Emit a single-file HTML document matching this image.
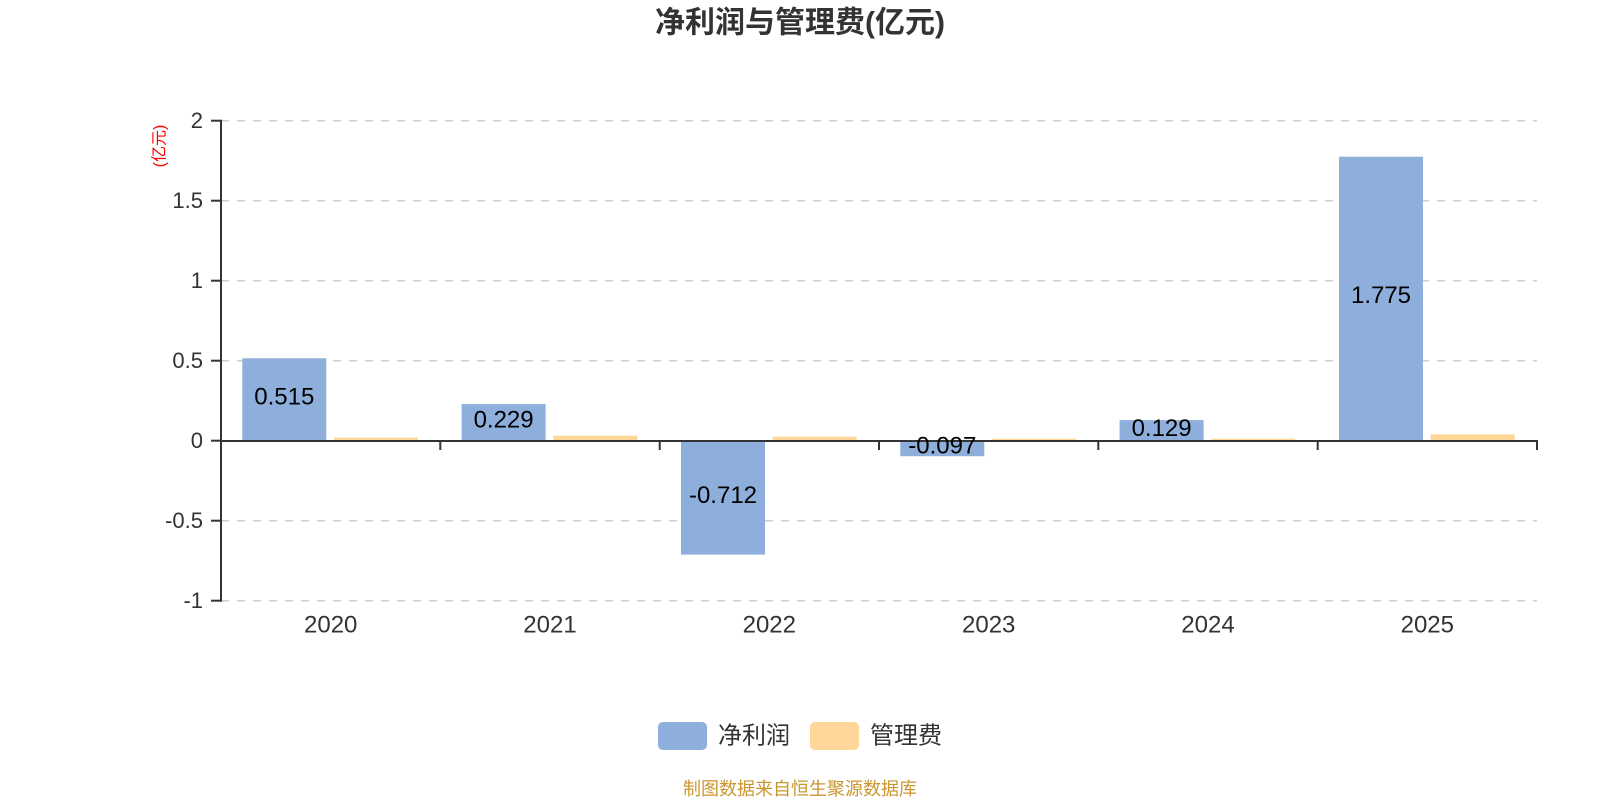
<!DOCTYPE html>
<html>
<head>
<meta charset="utf-8">
<style>
  html, body { margin: 0; padding: 0; background: #ffffff; }
  body { width: 1600px; height: 800px; overflow: hidden; }
  svg { display: block; }
  text { font-family: "Liberation Sans", "Noto Sans CJK SC", sans-serif; }
</style>
</head>
<body>
<svg width="1600" height="800" viewBox="0 0 1600 800" xmlns="http://www.w3.org/2000/svg">
  <rect x="0" y="0" width="1600" height="800" fill="#ffffff"/>

  <!-- Title -->
  <text x="800" y="23" text-anchor="middle" dominant-baseline="central" font-size="30" font-weight="bold" fill="#333333">净利润与管理费(亿元)</text>

  <!-- Unit label (rotated) -->
  <text x="0" y="0" transform="translate(160,146) rotate(-90)" text-anchor="middle" dominant-baseline="central" font-size="16" fill="#ff0000">(亿元)</text>

  <!-- Grid lines -->
  <g stroke="#cccccc" stroke-width="1.5" stroke-dasharray="8,8" fill="none">
    <line x1="221" y1="120.7" x2="1537" y2="120.7"/>
    <line x1="221" y1="200.7" x2="1537" y2="200.7"/>
    <line x1="221" y1="280.7" x2="1537" y2="280.7"/>
    <line x1="221" y1="360.7" x2="1537" y2="360.7"/>
    <line x1="221" y1="520.7" x2="1537" y2="520.7"/>
    <line x1="221" y1="600.7" x2="1537" y2="600.7"/>
  </g>

  <!-- Net profit bars (blue) -->
  <g fill="#8eaedb">
    <rect x="242.3" y="358.3" width="84" height="82.4"/>
    <rect x="461.6" y="404.1" width="84" height="36.6"/>
    <rect x="681.0" y="440.7" width="84" height="113.9"/>
    <rect x="900.3" y="440.7" width="84" height="15.5"/>
    <rect x="1119.6" y="420.1" width="84" height="20.6"/>
    <rect x="1339.0" y="156.7" width="84" height="284.0"/>
  </g>

  <!-- Admin expense bars (orange) -->
  <g fill="#ffd899">
    <rect x="334.0" y="437.7" width="84" height="3"/>
    <rect x="553.3" y="435.7" width="84" height="5"/>
    <rect x="772.7" y="436.7" width="84" height="4"/>
    <rect x="992.0" y="438.7" width="84" height="2"/>
    <rect x="1211.3" y="438.7" width="84" height="2"/>
    <rect x="1430.7" y="434.3" width="84" height="6.4"/>
  </g>

  <!-- Y axis -->
  <g stroke="#333333" stroke-width="2" fill="none">
    <line x1="221" y1="119.7" x2="221" y2="601.7"/>
    <line x1="211" y1="120.7" x2="221" y2="120.7"/>
    <line x1="211" y1="200.7" x2="221" y2="200.7"/>
    <line x1="211" y1="280.7" x2="221" y2="280.7"/>
    <line x1="211" y1="360.7" x2="221" y2="360.7"/>
    <line x1="211" y1="440.7" x2="221" y2="440.7"/>
    <line x1="211" y1="520.7" x2="221" y2="520.7"/>
    <line x1="211" y1="600.7" x2="221" y2="600.7"/>
  </g>

  <!-- X axis -->
  <g stroke="#333333" stroke-width="2" fill="none">
    <line x1="220" y1="441" x2="1538" y2="441"/>
    <line x1="221" y1="441" x2="221" y2="450"/>
    <line x1="440.3" y1="441" x2="440.3" y2="450"/>
    <line x1="659.7" y1="441" x2="659.7" y2="450"/>
    <line x1="879" y1="441" x2="879" y2="450"/>
    <line x1="1098.3" y1="441" x2="1098.3" y2="450"/>
    <line x1="1317.7" y1="441" x2="1317.7" y2="450"/>
    <line x1="1537" y1="441" x2="1537" y2="450"/>
  </g>

  <!-- Y axis labels -->
  <g font-size="22" fill="#333333" text-anchor="end" dominant-baseline="central">
    <text x="203" y="120.7">2</text>
    <text x="203" y="200.7">1.5</text>
    <text x="203" y="280.7">1</text>
    <text x="203" y="360.7">0.5</text>
    <text x="203" y="440.7">0</text>
    <text x="203" y="520.7">-0.5</text>
    <text x="203" y="600.7">-1</text>
  </g>

  <!-- X axis labels -->
  <g font-size="24" fill="#333333" text-anchor="middle" dominant-baseline="central">
    <text x="330.7" y="625">2020</text>
    <text x="550" y="625">2021</text>
    <text x="769.3" y="625">2022</text>
    <text x="988.7" y="625">2023</text>
    <text x="1208" y="625">2024</text>
    <text x="1427.3" y="625">2025</text>
  </g>

  <!-- Data labels -->
  <g font-size="24" fill="#000000" text-anchor="middle" dominant-baseline="central">
    <text x="284.3" y="397">0.515</text>
    <text x="503.6" y="420">0.229</text>
    <text x="723.0" y="495.5">-0.712</text>
    <text x="942.3" y="446">-0.097</text>
    <text x="1161.6" y="428.5">0.129</text>
    <text x="1381.0" y="295.5">1.775</text>
  </g>

  <!-- Legend -->
  <rect x="658" y="722" width="49" height="28" rx="5" ry="5" fill="#8eaedb"/>
  <text x="718" y="736" font-size="24" fill="#333333" dominant-baseline="central">净利润</text>
  <rect x="810" y="722" width="49" height="28" rx="5" ry="5" fill="#ffd899"/>
  <text x="870" y="736" font-size="24" fill="#333333" dominant-baseline="central">管理费</text>

  <!-- Footer -->
  <text x="800" y="789" font-size="18" fill="#c9972f" text-anchor="middle" dominant-baseline="central">制图数据来自恒生聚源数据库</text>
</svg>
</body>
</html>
